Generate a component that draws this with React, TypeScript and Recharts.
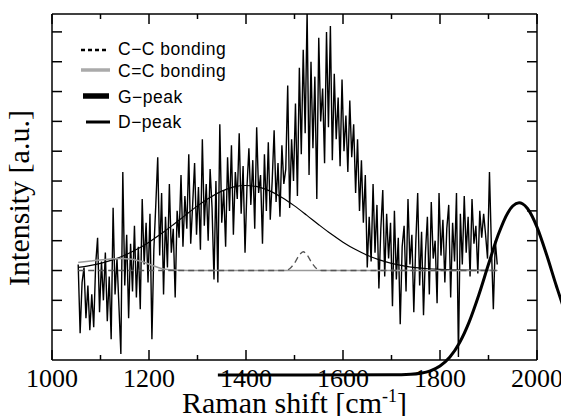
import React from 'react';
import { LineChart, Line, XAxis, YAxis, Legend } from 'recharts';

// Measured spectrum (Raman shift sampled every 4 cm^-1 starting at 1054)
const measuredStart = 1054;
const measuredStep = 4;
const measuredIntensity = [
  0.2, -2.1, -0.4, 0.1, -1.6, -0.5, -2.0, -0.8, -1.9, 0.2,
  1.1, -1.4, 0.3, -1.0, 0.6, -1.7, -0.2, -2.3, 2.1, -0.8,
  0.4, -1.2, -2.8, 3.3, -0.5, 1.2, -1.6, 0.9, -0.7, 1.5,
  -0.9, 0.8, -1.3, 2.4, 0.2, 1.6, -0.4, 1.9, -2.3, 0.7,
  2.2, 3.8, 0.5, 2.6, -0.8, 1.8, 0.1, 2.9, 0.6, 1.4,
  -0.9, 2.0, 1.1, 3.2, 0.8, 2.5, 1.4, 3.9, 0.9, 2.2,
  3.6, 1.2, 2.8, 0.7, 4.4, 1.5, 2.9, 1.0, 3.4, 2.1,
  -0.3, 3.0, -0.4, 4.9, 1.6, 2.7, 0.8, 3.8, 2.0, 4.2,
  1.2, 3.3, 2.4, 4.6, 1.9, 3.5, 0.6, 2.8, 4.1, 2.2,
  3.7, 1.4, 4.8, 2.6, 3.2, 0.9, 3.9, 2.0, 4.3, 1.7,
  3.0, 4.7, 2.3, 3.6, 1.8, 4.2, 2.9, 3.4, 6.2, 2.1,
  4.4, 3.0, 5.6, 2.5, 6.8, 3.9, 7.4, 4.6, 8.7, 3.2,
  7.0, 4.1, 6.5, 2.4, 7.8, 5.0, 6.1, 3.6, 8.0, 4.8,
  8.2, 3.7, 6.6, 4.4, 5.8, 3.5, 6.4, 4.0, 5.2, 3.3,
  5.7, 3.8, 4.9, 2.6, 4.4, 2.0, 3.7, 1.6, 3.2, 0.1,
  1.8, 0.3, 2.9, 0.6, 2.2, -0.6, 1.4, 2.7, -0.2, 1.9,
  0.4, 1.6, -1.2, 2.0, -0.3, 1.1, -1.8, 0.8, 1.5, -0.7,
  2.4, 0.2, 1.2, -1.4, 0.9, 2.6, -0.5, 1.3, -1.5, 0.6,
  1.8, -0.8, 2.3, 0.4, 1.0, -1.1, 2.6, 0.5, 1.7, -0.4,
  1.4, 2.2, -0.9, 1.6, 0.3, 2.6, -2.9, 1.9, 0.2, 2.5,
  0.6, 1.8, -0.2, 2.4, 0.9, 1.5, -0.1, 2.0, 1.1, 1.9,
  1.2, 0.4, 3.3, 0.8, -1.3, 1.0, 0.2,
];

// D-peak fit (thin smooth curve)
const dPeakShift = [1054, 1075, 1100, 1125, 1150, 1175, 1200, 1225, 1250, 1275, 1300, 1325, 1350, 1375, 1400, 1425, 1450, 1475, 1500, 1525, 1550, 1575, 1600, 1625, 1650, 1675, 1700, 1725, 1750, 1775, 1800, 1850, 1918];
const dPeakValue = [0.107, 0.157, 0.241, 0.358, 0.513, 0.711, 0.951, 1.23, 1.537, 1.857, 2.167, 2.442, 2.661, 2.802, 2.85, 2.802, 2.661, 2.442, 2.167, 1.857, 1.537, 1.23, 0.951, 0.711, 0.513, 0.358, 0.241, 0.157, 0.099, 0.06, 0.035, 0.011, 0.001];

// C=C bonding (grey)
const ccDoubleShift = [1054, 1080, 1110, 1145, 1186, 1210, 1233, 1260, 1300, 1918];
const ccDoubleValue = [0.27, 0.32, 0.37, 0.4, 0.3, 0.15, 0.04, 0.01, 0, 0];

// C-C bonding (dashed)
const ccSingleShift = [1054, 1480, 1490, 1500, 1510, 1518, 1526, 1536, 1546, 1556, 1918];
const ccSingleValue = [0, 0, 0.06, 0.25, 0.52, 0.63, 0.52, 0.25, 0.06, 0, 0];

// G-peak (thick)
const gPeakShift = [1342, 1700, 1740, 1760, 1780, 1800, 1820, 1840, 1860, 1880, 1900, 1920, 1940, 1950, 1963, 1970, 1980, 1990, 2000, 2020, 2040, 2060, 2080, 2100];
const gPeakValue = [-3.5, -3.497, -3.477, -3.441, -3.362, -3.2, -2.909, -2.43, -1.73, -0.821, 0.208, 1.196, 1.94, 2.161, 2.27, 2.238, 2.087, 1.82, 1.454, 0.518, -0.519, -1.476, -2.244, -2.787];

const xTicks = [1000, 1100, 1200, 1300, 1400, 1500, 1600, 1700, 1800, 1900, 2000];
const yTicks = [-2, -1, 0, 1, 2, 3, 4, 5, 6, 7, 8];
const legendNames = ['C\u2212C bonding', 'C=C bonding', 'G\u2212peak', 'D\u2212peak'];

const toPoints = (xs: number[], ys: number[]) => xs.map((x, i) => ({ shift: x, value: ys[i] }));
const measuredData = measuredIntensity.map((v, i) => ({ shift: measuredStart + measuredStep * i, value: v }));
const dPeakData = toPoints(dPeakShift, dPeakValue);
const ccDoubleData = toPoints(ccDoubleShift, ccDoubleValue);
const ccSingleData = toPoints(ccSingleShift, ccSingleValue);
const gPeakData = toPoints(gPeakShift, gPeakValue);

const SERIF = '"Liberation Serif", "Times New Roman", serif';
const SANS = '"Liberation Sans", Arial, sans-serif';

const BottomTick = (props: any) => {
  const { x, y, payload } = props;
  const v = payload.value;
  const major = (v - 1000) % 200 === 0;
  return (
    <g>
      <line x1={x} y1={y} x2={x} y2={y - (major ? 10 : 5)} stroke="#000" strokeWidth={1.5} />
      {major && (
        <text x={x} y={y + 27} textAnchor="middle" fontFamily={SERIF} fontSize={26} fill="#000">
          {v}
        </text>
      )}
    </g>
  );
};

const TopTick = (props: any) => {
  const { x, y, payload } = props;
  const major = (payload.value - 1000) % 200 === 0;
  return <line x1={x} y1={y} x2={x} y2={y + (major ? 10 : 5)} stroke="#000" strokeWidth={1.5} />;
};

const LeftTick = (props: any) => {
  const { x, y } = props;
  return <line x1={x} y1={y} x2={x + 10} y2={y} stroke="#000" strokeWidth={1.5} />;
};

const RightTick = (props: any) => {
  const { x, y } = props;
  return <line x1={x} y1={y} x2={x - 10} y2={y} stroke="#000" strokeWidth={1.5} />;
};

const XTitle = (props: any) => {
  const vb = props.viewBox || { x: 0, y: 0, width: 0, height: 0 };
  return (
    <text x={vb.x + vb.width / 2} y={vb.y + 53} textAnchor="middle" fontFamily={SERIF} fontSize={30} fill="#000">
      Raman shift [cm
      <tspan fontSize={18} dy={-11}>-1</tspan>
      <tspan dy={11}>]</tspan>
    </text>
  );
};

const YTitle = (props: any) => {
  const vb = props.viewBox || { x: 0, y: 0, width: 0, height: 0 };
  const cx = vb.x + 21;
  const cy = vb.y + vb.height / 2 + 11;
  return (
    <text x={cx} y={cy} transform={`rotate(-90, ${cx}, ${cy})`} textAnchor="middle" fontFamily={SERIF} fontSize={30} fill="#000">
      Intensity [a.u.]
    </text>
  );
};

const LegendBox = () => (
  <svg width={260} height={140} style={{ display: 'block' }}>
    <line x1={73} y1={42} x2={98} y2={42} stroke="#000" strokeWidth={2.5} strokeDasharray="4 3" />
    <line x1={73} y1={62} x2={102} y2={62} stroke="#aaa" strokeWidth={3.5} />
    <line x1={75} y1={88} x2={101} y2={88} stroke="#000" strokeWidth={5.5} />
    <line x1={78} y1={114} x2={102} y2={114} stroke="#000" strokeWidth={3} />
    {legendNames.map((n, i) => (
      <text key={n} x={110} y={[47, 69.3, 95, 120][i]} fontFamily={SANS} fontSize={17.5} letterSpacing={0.5} fill="#000">
        {n}
      </text>
    ))}
  </svg>
);

export default function App() {
  return (
    <div>
      <style>{`.gpeak-line, .gpeak-line * { clip-path: none !important; }`}</style>
      <LineChart width={561} height={408} margin={{ top: 0, right: 0, bottom: 0, left: 0 }}>
        <XAxis
          xAxisId="bottom"
          type="number"
          dataKey="shift"
          orientation="bottom"
          domain={[1000, 2000]}
          allowDataOverflow
          ticks={xTicks}
          interval={0}
          height={56}
          tickSize={0}
          tickMargin={0}
          tickLine={false}
          tick={<BottomTick />}
          axisLine={{ stroke: '#000', strokeWidth: 1.5 }}
          label={{ content: <XTitle /> }}
        />
        <XAxis
          xAxisId="top"
          type="number"
          dataKey="shift"
          orientation="top"
          domain={[1000, 2000]}
          allowDataOverflow
          ticks={xTicks}
          interval={0}
          height={6}
          tickSize={0}
          tickMargin={0}
          tickLine={false}
          tick={<TopTick />}
          axisLine={{ stroke: '#000', strokeWidth: 1.5 }}
        />
        <YAxis
          yAxisId="left"
          type="number"
          orientation="left"
          domain={[-3, 8.6]}
          allowDataOverflow
          ticks={yTicks}
          interval={0}
          width={44}
          tickSize={0}
          tickMargin={0}
          tickLine={false}
          tick={<LeftTick />}
          axisLine={{ stroke: '#000', strokeWidth: 1.5 }}
          label={{ content: <YTitle /> }}
        />
        <YAxis
          yAxisId="right"
          type="number"
          orientation="right"
          domain={[-3, 8.6]}
          allowDataOverflow
          ticks={yTicks}
          interval={0}
          width={32}
          tickSize={0}
          tickMargin={0}
          tickLine={false}
          tick={<RightTick />}
          axisLine={{ stroke: '#000', strokeWidth: 1.5 }}
        />
        <Legend
          layout="horizontal"
          verticalAlign="middle"
          align="center"
          wrapperStyle={{ left: 0, top: 0, width: 260, height: 140 }}
          content={() => <LegendBox />}
        />
        <Line
          data={measuredData}
          dataKey="value"
          xAxisId="bottom"
          yAxisId="left"
          type="linear"
          stroke="#000"
          strokeWidth={1.4}
          dot={false}
          isAnimationActive={false}
          legendType="none"
          name="Measured"
        />
        <Line
          data={dPeakData}
          dataKey="value"
          xAxisId="bottom"
          yAxisId="left"
          type="monotone"
          stroke="#000"
          strokeWidth={1.2}
          dot={false}
          isAnimationActive={false}
          name="D-peak"
        />
        <Line
          data={ccDoubleData}
          dataKey="value"
          xAxisId="bottom"
          yAxisId="left"
          type="monotone"
          stroke="#999"
          strokeWidth={1.5}
          dot={false}
          isAnimationActive={false}
          name="C=C bonding"
        />
        <Line
          data={ccSingleData}
          dataKey="value"
          xAxisId="bottom"
          yAxisId="left"
          type="monotone"
          stroke="#555"
          strokeWidth={1.3}
          strokeDasharray="6 4"
          dot={false}
          isAnimationActive={false}
          name="C-C bonding"
        />
        <Line
          className="gpeak-line"
          data={gPeakData}
          dataKey="value"
          xAxisId="bottom"
          yAxisId="left"
          type="monotone"
          stroke="#000"
          strokeWidth={3}
          dot={false}
          isAnimationActive={false}
          name="G-peak"
        />
      </LineChart>
    </div>
  );
}
